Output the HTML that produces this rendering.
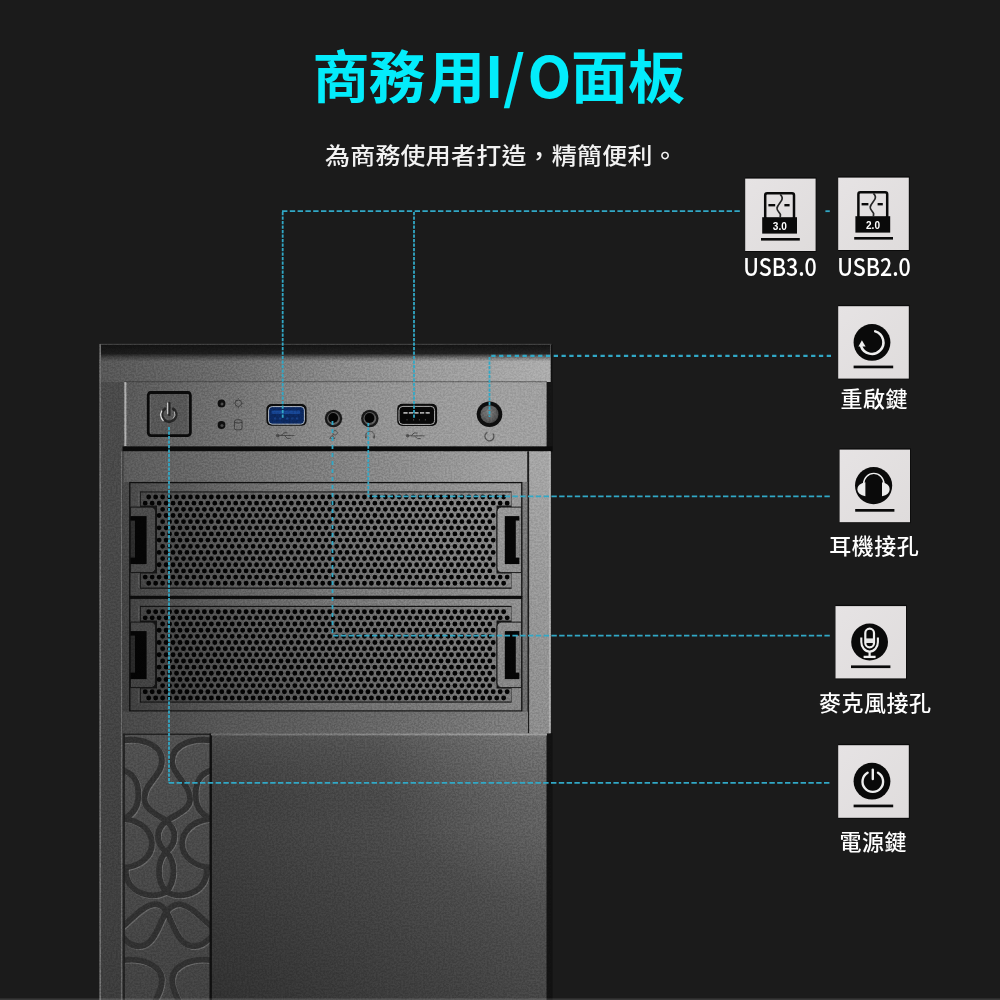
<!DOCTYPE html>
<html lang="zh-Hant">
<head>
<meta charset="utf-8">
<title>商務用I/O面板</title>
<style>
html,body{margin:0;padding:0;}
body{width:1000px;height:1000px;overflow:hidden;background:#1b1b1b;position:relative;
  font-family:"Liberation Sans","Noto Sans CJK TC",sans-serif;}
#stage{position:absolute;left:0;top:0;width:1000px;height:1000px;overflow:hidden;background:#1b1b1b;}
#gfx{position:absolute;left:0;top:0;}
.t{position:absolute;white-space:nowrap;color:#fff;line-height:1;}
#title{left:312.5px;top:44.5px;font-family:"Noto Sans CJK TC",sans-serif;font-weight:700;font-size:57px;color:#03ecfb;letter-spacing:0px;}
#sub{left:325px;top:143.2px;font-family:"Noto Sans CJK TC",sans-serif;font-weight:500;font-size:25px;letter-spacing:0.2px;color:#f2f2f2;transform:scaleY(0.925);transform-origin:0 0;}
.usb{font-size:24.6px !important;transform:scaleX(0.872);transform-origin:50% 50%;}
.cj{letter-spacing:0.5px;transform:scaleY(0.96);transform-origin:50% 50%;}
.lab{font-family:"Noto Sans CJK TC",sans-serif;font-weight:500;font-size:22px;text-align:center;width:200px;color:#fff;}
</style>
</head>
<body>
<div id="stage">
<svg id="gfx" width="1000" height="1000" viewBox="0 0 1000 1000">
<defs>
  <linearGradient id="gBody" gradientUnits="userSpaceOnUse" x1="100" y1="0" x2="550" y2="0">
    <stop offset="0" stop-color="#4c4c4c"/><stop offset="1" stop-color="#808080"/>
  </linearGradient>
  <linearGradient id="gTopH" gradientUnits="userSpaceOnUse" x1="100" y1="0" x2="550" y2="0">
    <stop offset="0" stop-color="#565656"/><stop offset="0.28" stop-color="#6c6c6c"/><stop offset="0.5" stop-color="#868686"/><stop offset="0.72" stop-color="#9a9a9a"/><stop offset="0.85" stop-color="#a2a2a2"/><stop offset="0.94" stop-color="#a8a8a8"/><stop offset="1" stop-color="#adadad"/>
  </linearGradient>
  <linearGradient id="gTopV" x1="0" y1="0" x2="0" y2="1">
    <stop offset="0" stop-color="#121212" stop-opacity="1"/><stop offset="0.25" stop-color="#161616" stop-opacity=".92"/><stop offset="0.36" stop-color="#202020" stop-opacity=".38"/><stop offset="0.46" stop-color="#222" stop-opacity="0"/>
  </linearGradient>
  <linearGradient id="gPanel" gradientUnits="userSpaceOnUse" x1="100" y1="0" x2="550" y2="0">
    <stop offset="0" stop-color="#525252"/><stop offset="0.28" stop-color="#707070"/><stop offset="0.5" stop-color="#8a8a8a"/><stop offset="0.72" stop-color="#989898"/><stop offset="0.85" stop-color="#9e9e9e"/><stop offset="1" stop-color="#a0a0a0"/>
  </linearGradient>
  <linearGradient id="gStrip" gradientUnits="userSpaceOnUse" x1="100" y1="0" x2="550" y2="0">
    <stop offset="0" stop-color="#565656"/><stop offset="0.28" stop-color="#6c6c6c"/><stop offset="0.5" stop-color="#7e7e7e"/><stop offset="0.72" stop-color="#909090"/><stop offset="0.9" stop-color="#a0a0a0"/><stop offset="1" stop-color="#a2a2a2"/>
  </linearGradient>
  <linearGradient id="gStrip2" gradientUnits="userSpaceOnUse" x1="100" y1="0" x2="550" y2="0">
    <stop offset="0" stop-color="#464646"/><stop offset="0.11" stop-color="#4b4b4b"/><stop offset="0.28" stop-color="#565656"/><stop offset="0.5" stop-color="#5f5f5f"/><stop offset="0.72" stop-color="#6d6d6d"/><stop offset="0.9" stop-color="#7b7b7b"/><stop offset="1" stop-color="#7f7f7f"/>
  </linearGradient>
  <linearGradient id="gFrame" gradientUnits="userSpaceOnUse" x1="100" y1="0" x2="550" y2="0">
    <stop offset="0" stop-color="#444444"/><stop offset="0.07" stop-color="#4a4a4a"/><stop offset="0.28" stop-color="#666666"/><stop offset="0.5" stop-color="#7c7c7c"/><stop offset="0.72" stop-color="#8c8c8c"/><stop offset="0.9" stop-color="#9a9a9a"/><stop offset="1" stop-color="#9c9c9c"/>
  </linearGradient>
  <linearGradient id="gWeb" gradientUnits="userSpaceOnUse" x1="100" y1="0" x2="550" y2="0">
    <stop offset="0" stop-color="#404040"/><stop offset="0.07" stop-color="#464646"/><stop offset="0.28" stop-color="#5e5e5e"/><stop offset="0.5" stop-color="#707070"/><stop offset="0.72" stop-color="#808080"/><stop offset="0.9" stop-color="#8c8c8c"/><stop offset="1" stop-color="#8e8e8e"/>
  </linearGradient>
  <linearGradient id="gPillarR" x1="0" y1="0" x2="0" y2="1">
    <stop offset="0" stop-color="#a6a6a6"/><stop offset="0.5" stop-color="#989898"/><stop offset="1" stop-color="#8c8c8c"/>
  </linearGradient>
  <linearGradient id="gDoor" gradientUnits="userSpaceOnUse" x1="211" y1="0" x2="547" y2="0">
    <stop offset="0" stop-color="#3d3d3d"/><stop offset="0.5" stop-color="#494949"/><stop offset="1" stop-color="#575757"/>
  </linearGradient>
  <linearGradient id="gDoorV" x1="0" y1="0" x2="0" y2="1">
    <stop offset="0" stop-color="#fff" stop-opacity=".07"/><stop offset="0.35" stop-color="#000" stop-opacity="0"/><stop offset="1" stop-color="#000" stop-opacity=".2"/>
  </linearGradient>
  <radialGradient id="gDoorHi" gradientUnits="userSpaceOnUse" cx="547" cy="734" r="170">
    <stop offset="0" stop-color="#fff" stop-opacity=".12"/><stop offset="1" stop-color="#fff" stop-opacity="0"/>
  </radialGradient>
  <linearGradient id="gPillarL" gradientUnits="userSpaceOnUse" x1="0" y1="382" x2="0" y2="1000">
    <stop offset="0" stop-color="#4a4a4a"/><stop offset="0.15" stop-color="#494949"/><stop offset="0.35" stop-color="#464646"/><stop offset="0.85" stop-color="#3f3f3f"/><stop offset="1" stop-color="#3c3c3c"/>
  </linearGradient>
  <linearGradient id="gDeco" gradientUnits="userSpaceOnUse" x1="0" y1="733" x2="0" y2="1000">
    <stop offset="0" stop-color="#505050"/><stop offset="0.3" stop-color="#4b4b4b"/><stop offset="1" stop-color="#424242"/>
  </linearGradient>
  <linearGradient id="gBayShade" gradientUnits="userSpaceOnUse" x1="0" y1="482" x2="0" y2="711">
    <stop offset="0" stop-color="#000" stop-opacity="0"/><stop offset="1" stop-color="#000" stop-opacity=".15"/>
  </linearGradient>
  <radialGradient id="gReset" cx="0.45" cy="0.4" r="0.7">
    <stop offset="0" stop-color="#7c7c7c"/><stop offset="1" stop-color="#444"/>
  </radialGradient>
  <linearGradient id="gBox" x1="0" y1="0" x2="1" y2="1">
    <stop offset="0" stop-color="#e6e3e4"/><stop offset="1" stop-color="#dfdcdc"/>
  </linearGradient>
  <filter id="grain" x="0" y="0" width="100%" height="100%" color-interpolation-filters="sRGB">
    <feTurbulence type="fractalNoise" baseFrequency="0.55" numOctaves="2" seed="11"/>
    <feColorMatrix type="matrix" values="2.6 0 0 0 -0.8  2.6 0 0 0 -0.8  2.6 0 0 0 -0.8  0 0 0 0 1"/>
  </filter>
</defs>
<!-- case -->
<g id="case">
  <!-- body base -->
  <path d="M99.5 344 H552.4 V451.4 H550.8 V733 H552.2 V1000 H99.5Z" fill="#101010"/>
  <rect x="99.5" y="344" width="451" height="656" fill="url(#gBody)"/>
  <!-- top band -->
  <rect x="99.5" y="344" width="451" height="38" fill="url(#gTopH)"/>
  <rect x="99.5" y="344" width="451" height="38" fill="url(#gTopV)"/>
  <rect x="99.5" y="343.8" width="452" height="1.1" fill="#444"/>
  <!-- left pillar -->
  <rect x="99.5" y="382" width="24" height="618" fill="url(#gPillarL)"/>
  <rect x="99.5" y="344" width="1.5" height="656" fill="#707070"/>
  <!-- I/O panel -->
  <rect x="124" y="381.5" width="423" height="65" fill="url(#gPanel)"/>
  <rect x="124" y="381.2" width="423" height="1" fill="#2c2c2c" opacity=".55"/>
  <rect x="124.4" y="382" width="2" height="64" fill="#b0b0b0"/>
  <rect x="546.6" y="382" width="6" height="69" fill="#151515"/>
  <rect x="122.5" y="446.4" width="430" height="5" fill="#0b0b0b"/>
  <!-- strip under panel -->
  <rect x="123" y="451.4" width="405" height="31" fill="url(#gStrip)"/>
  <rect x="121.4" y="451.4" width="1" height="549" fill="#848484"/><rect x="122.4" y="451.4" width="1" height="549" fill="#333"/>
  <!-- right pillar -->
  <rect x="529" y="451.4" width="21.8" height="281.6" fill="url(#gPillarR)"/>
  <rect x="527.2" y="451.4" width="1.9" height="282" fill="#1c1c1c"/>
  <rect x="548.9" y="451.4" width="1.6" height="282" fill="#b6b6b6" opacity=".8"/>
  <!-- bay area bg -->
  <rect x="123" y="482" width="404.4" height="230" fill="url(#gStrip2)"/>
  <g>
    <rect x="129.8" y="482.6" width="392" height="113.79999999999995" fill="url(#gFrame)" stroke="#101010" stroke-width="1.3"/>
    <rect x="140" y="491.40000000000003" width="371.6" height="97.4" fill="#151515"/>
    <path id="mmesh" d="M140.8 492.6 H511.4 V505.6 H496.5 V573.6 H511.4 V587.6 H140.8 V573.6 H157 V505.6 H140.8 Z" fill="url(#gWeb)"/>
    <g fill="none" stroke="#030303" stroke-width="4.8" stroke-linecap="round" stroke-dasharray="0 6.96" transform="translate(0.3 0.4)">
      <path d="M148.40 496.60H503.86"/>
      <path d="M144.92 502.76H507.34"/>
      <path d="M162.32 508.92H489.94"/>
      <path d="M158.84 515.08H493.42"/>
      <path d="M162.32 521.24H489.94"/>
      <path d="M158.84 527.40H493.42"/>
      <path d="M162.32 533.56H489.94"/>
      <path d="M158.84 539.72H493.42"/>
      <path d="M162.32 545.88H489.94"/>
      <path d="M158.84 552.04H493.42"/>
      <path d="M162.32 558.20H489.94"/>
      <path d="M158.84 564.36H493.42"/>
      <path d="M162.32 570.52H489.94"/>
      <path d="M144.92 576.68H507.34"/>
      <path d="M148.40 582.84H503.86"/>
    </g>
    <path d="M130.4 507.1 H151 a4.6 4.6 0 0 1 4.6 4.6 V568.0 a4.6 4.6 0 0 1 -4.6 4.6 H130.4Z" fill="#4c4c4c" stroke="#151515" stroke-width="1"/>
    <rect x="130.4" y="516.1" width="16.2" height="48" fill="#050505"/>
    <rect x="130.6" y="520.6" width="4.4" height="37" fill="#2e2e2e"/>
    <path d="M521.4 507.1 H501.6 a4.6 4.6 0 0 0 -4.6 4.6 V568.0 a4.6 4.6 0 0 0 4.6 4.6 H521.4Z" fill="#9a9a9a" stroke="#1a1a1a" stroke-width="1"/>
    <rect x="504.8" y="516.1" width="14.6" height="48" fill="#060606"/>
    <rect x="515.8" y="520.6" width="4" height="37" fill="#8c8c8c"/>
    <rect x="138" y="492.6" width="1" height="13" fill="#666" opacity=".6"/><rect x="138" y="574.6" width="1" height="13" fill="#666" opacity=".6"/>
  </g>
  <g>
    <rect x="129.2" y="596" width="393.2" height="2.6" fill="#0c0c0c"/>
    <rect x="129.8" y="598.4" width="392" height="112.6" fill="url(#gFrame)" stroke="#101010" stroke-width="1.3"/>
    <rect x="140" y="605.8" width="371.6" height="96.8" fill="#151515"/>
    <path id="mmesh2" d="M140.8 607.1 H511.4 V620.6 H496.5 V688.6 H511.4 V701.4 H140.8 V688.6 H157 V620.6 H140.8 Z" fill="url(#gWeb)"/>
    <g fill="none" stroke="#030303" stroke-width="4.9" stroke-linecap="round" stroke-dasharray="0 6.96" transform="translate(0.3 0.3)">
      <path d="M148.40 611.40H503.86"/>
      <path d="M144.92 617.56H507.34"/>
      <path d="M162.32 623.72H489.94"/>
      <path d="M158.84 629.88H493.42"/>
      <path d="M162.32 636.04H489.94"/>
      <path d="M158.84 642.20H493.42"/>
      <path d="M162.32 648.36H489.94"/>
      <path d="M158.84 654.52H493.42"/>
      <path d="M162.32 660.68H489.94"/>
      <path d="M158.84 666.84H493.42"/>
      <path d="M162.32 673.00H489.94"/>
      <path d="M158.84 679.16H493.42"/>
      <path d="M162.32 685.32H489.94"/>
      <path d="M144.92 691.48H507.34"/>
      <path d="M148.40 697.64H503.86"/>
    </g>
    <path d="M130.4 622.1 H151 a4.6 4.6 0 0 1 4.6 4.6 V683.0 a4.6 4.6 0 0 1 -4.6 4.6 H130.4Z" fill="#4c4c4c" stroke="#151515" stroke-width="1"/>
    <rect x="130.4" y="631.1" width="16.2" height="48" fill="#050505"/>
    <rect x="130.6" y="635.6" width="4.4" height="37" fill="#2e2e2e"/>
    <path d="M521.4 622.1 H501.6 a4.6 4.6 0 0 0 -4.6 4.6 V683.0 a4.6 4.6 0 0 0 4.6 4.6 H521.4Z" fill="#9a9a9a" stroke="#1a1a1a" stroke-width="1"/>
    <rect x="504.8" y="631.1" width="14.6" height="48" fill="#060606"/>
    <rect x="515.8" y="635.6" width="4" height="37" fill="#8c8c8c"/>
    <rect x="138" y="607.6" width="1" height="13" fill="#666" opacity=".6"/><rect x="138" y="689.6" width="1" height="13" fill="#666" opacity=".6"/>
  </g>
  <!-- strip under bays -->
  <rect x="123" y="711.6" width="405" height="22" fill="url(#gStrip2)"/>
  <rect x="123" y="482" width="405" height="229.6" fill="url(#gBayShade)"/>
  <!-- deco strip -->
  <rect x="123.5" y="733.5" width="87.5" height="267" fill="url(#gDeco)"/>
  <svg x="110" y="730" width="120" height="270" viewBox="0 0 444 1000" overflow="hidden">
    <clipPath id="cDeco"><rect x="52" y="14" width="320" height="990"/></clipPath>
    <g clip-path="url(#cDeco)" fill="none" stroke="#8a8a8a" stroke-opacity=".5" stroke-width="21.5" transform="translate(3.2 3.2)" stroke-linecap="round">
      <path d="M50 38 C110 30 190 50 192 112 C194 170 120 200 128 262 C134 300 185 318 208 338"/>
      <path d="M372 38 C312 30 232 50 230 112 C228 170 302 200 296 262 C290 300 232 318 208 338"/>
      <path d="M50 150 C95 165 105 200 105 240 C105 290 80 315 50 328"/>
      <path d="M372 150 C327 165 317 200 317 240 C317 290 342 315 372 328"/>
      <path d="M50 330 C120 335 155 380 155 420 C155 470 110 505 50 510"/>
      <path d="M372 330 C302 335 267 380 267 420 C267 470 312 505 372 510"/>
      <path d="M208 338 C165 370 170 420 208 452 C246 486 242 560 208 600"/>
      <path d="M208 338 C251 370 246 420 208 452 C170 486 174 560 208 600"/>
      <path d="M208 600 C160 625 100 610 72 570 C60 550 55 530 60 510"/>
      <path d="M208 600 C256 625 316 610 344 570 C356 550 361 530 356 510"/>
      <path d="M50 725 C90 690 125 650 165 645 C190 645 200 660 208 672 C235 720 250 790 300 800 C330 805 350 790 372 770"/>
      <path d="M372 725 C332 690 297 650 257 645 C232 645 222 660 208 672 C181 720 166 790 116 800 C86 805 66 790 50 770"/>
      <path d="M50 852 C110 845 190 865 192 925 C193 960 175 985 165 1010"/>
      <path d="M372 852 C312 845 232 865 230 925 C229 960 247 985 257 1010"/>
    </g>
    <g clip-path="url(#cDeco)" fill="none" stroke="#303030" stroke-width="21.5" stroke-linecap="round">
      <path d="M50 38 C110 30 190 50 192 112 C194 170 120 200 128 262 C134 300 185 318 208 338"/>
      <path d="M372 38 C312 30 232 50 230 112 C228 170 302 200 296 262 C290 300 232 318 208 338"/>
      <path d="M50 150 C95 165 105 200 105 240 C105 290 80 315 50 328"/>
      <path d="M372 150 C327 165 317 200 317 240 C317 290 342 315 372 328"/>
      <path d="M50 330 C120 335 155 380 155 420 C155 470 110 505 50 510"/>
      <path d="M372 330 C302 335 267 380 267 420 C267 470 312 505 372 510"/>
      <path d="M208 338 C165 370 170 420 208 452 C246 486 242 560 208 600"/>
      <path d="M208 338 C251 370 246 420 208 452 C170 486 174 560 208 600"/>
      <path d="M208 600 C160 625 100 610 72 570 C60 550 55 530 60 510"/>
      <path d="M208 600 C256 625 316 610 344 570 C356 550 361 530 356 510"/>
      <path d="M50 725 C90 690 125 650 165 645 C190 645 200 660 208 672 C235 720 250 790 300 800 C330 805 350 790 372 770"/>
      <path d="M372 725 C332 690 297 650 257 645 C232 645 222 660 208 672 C181 720 166 790 116 800 C86 805 66 790 50 770"/>
      <path d="M50 852 C110 845 190 865 192 925 C193 960 175 985 165 1010"/>
      <path d="M372 852 C312 845 232 865 230 925 C229 960 247 985 257 1010"/>
    </g>
  </svg>
  <rect x="123.2" y="733.5" width="1.6" height="267" fill="#1c1c1c"/>
  <rect x="123.5" y="733.5" width="87" height="1.5" fill="#222"/>
  <!-- door -->
  <rect x="211" y="733.5" width="336" height="267" fill="url(#gDoor)"/>
  <rect x="211" y="733.5" width="336" height="267" fill="url(#gDoorV)"/>
  <rect x="211" y="733.5" width="336" height="267" fill="url(#gDoorHi)"/>
  <rect x="209.5" y="733.5" width="2.4" height="267" fill="#0f0f0f"/>
  <rect x="546.5" y="733.5" width="6" height="267" fill="#121212"/>
  <rect x="211" y="733.4" width="336" height="2" fill="url(#gStrip)" opacity=".95"/>
</g>
<!-- IO parts -->
<g id="io">
  <!-- power button -->
  <rect x="148.2" y="392.4" width="42.2" height="43.2" rx="3" fill="#565656" stroke="#0a0a0a" stroke-width="2.7"/>
  <rect x="148.2" y="391.6" width="42.2" height="2.4" rx="1" fill="#0a0a0a"/>
  <path d="M150.6 395 V433.4 M188 395 V433.4" stroke="#707070" stroke-width="0.8" opacity=".8"/>
  <g fill="none" stroke-linecap="round">
    <path d="M164.9 408.8 A7.2 7.2 0 1 0 173.3 408.8" stroke="#262626" stroke-width="2.7"/>
    <path d="M169.3 403.2 V415" stroke="#262626" stroke-width="2.5"/>
    <path d="M161.7 411 A8.6 8.6 0 0 0 163.2 420.6" stroke="#dcdcdc" stroke-width="1.3"/>
    <path d="M174.6 412 A5.6 5.6 0 0 1 173.4 418.2" stroke="#bdbdbd" stroke-width="1"/>
    <path d="M167.7 403 V413.6" stroke="#d8d8d8" stroke-width="1.1"/>
  </g>
  <!-- leds -->
  <circle cx="221.5" cy="403.4" r="3.9" fill="#0e0e0e"/><circle cx="222" cy="404" r="1.5" fill="#4a4a4a"/>
  <circle cx="221.5" cy="425" r="3.9" fill="#0e0e0e"/><circle cx="222" cy="425.6" r="1.5" fill="#4a4a4a"/>
  <g fill="none" stroke="#3e3e3e" stroke-width="1">
    <circle cx="238.3" cy="403.2" r="3.2"/>
    <path d="M238.3 398.2v1M238.3 407.2v1M233.3 403.2h1M242.3 403.2h1M234.8 399.7l.7.7M241.1 406l.7.7M234.8 406.7l.7-.7M241.1 400.4l.7-.7"/>
    <rect x="234.4" y="419.8" width="7.6" height="10" rx="2"/>
    <path d="M234.4 422.4 q3.8 1.6 7.6 0"/>
  </g>
  <!-- usb3 port -->
  <rect x="266.4" y="404" width="40.2" height="21.8" rx="5" fill="#0c0c0c"/>
  <rect x="268.6" y="406.6" width="35.8" height="17.6" rx="3.6" fill="#0b2860" stroke="#c4ccd4" stroke-width="0.9"/>
  <rect x="271.6" y="410.6" width="28.6" height="3.4" rx="1" fill="#174592"/>
  <path d="M274 418.6h2.4M279 418.6h2.4M286 418.6h2.4M291 418.6h2.4M296 418.6h2.4" stroke="#163c80" stroke-width="2"/>
  <!-- usb symbol under usb3 -->
  <g fill="none" stroke="#484848" stroke-width="1"><path d="M277.4 435.6 H294.4"/><path d="M281 435.6 l3-2.8 h3.6"/><path d="M284.4 435.6 l3 2.8 h3.2"/><circle cx="277.6" cy="435.6" r="1.3" fill="#484848"/></g>
  <!-- jacks -->
  <g id="jack1"><circle cx="333.5" cy="418.5" r="8.7" fill="#181818"/><circle cx="333.5" cy="418.5" r="6.4" fill="#5c5c5c"/><circle cx="333.2" cy="418" r="4.9" fill="#040404"/></g>
  <g id="jack2"><circle cx="369.8" cy="418.5" r="8.7" fill="#181818"/><circle cx="369.8" cy="418.5" r="6.4" fill="#5c5c5c"/><circle cx="369.5" cy="418" r="4.9" fill="#040404"/></g>
  <g fill="none" stroke="#525252" stroke-width="1">
    <path d="M329.6 438.6 l2.6-3.4 2.6 3.4z"/><circle cx="335" cy="432.8" r="2.3"/>
    <path d="M365.8 438 v-2.6 a4.2 4.2 0 0 1 8.4 0 v2.6"/><path d="M365.8 435.6v2.6M374.2 435.6v2.6" stroke-width="1.6"/>
  </g>
  <!-- usb2 port -->
  <rect x="397.2" y="403.7" width="39.9" height="22.2" rx="5" fill="#0b0b0b"/>
  <rect x="399" y="406.4" width="35.6" height="18" rx="3.8" fill="#070707" stroke="#d6d6d6" stroke-width="0.8"/>
  <path d="M403.4 412.8h4.2M408.8 412.8h4.2M414.4 412.8h4.2M420 412.8h4.2M425.6 412.8h4.2" stroke="#a8a8a8" stroke-width="1.7"/>
  <path d="M407 419v1.6M413.6 419v1.6M419.4 419v1.6M425.4 419v1.6" stroke="#444" stroke-width="1"/>
  <g fill="none" stroke="#505050" stroke-width="1"><path d="M407.4 435.8 H424.6"/><path d="M411 435.8 l3-2.8 h3.6"/><path d="M414.4 435.8 l3 2.8 h3.2"/><circle cx="407.6" cy="435.8" r="1.3" fill="#505050"/></g>
  <!-- reset button -->
  <circle cx="489.5" cy="414.2" r="12.8" fill="#0d0d0d"/>
  <circle cx="489.5" cy="414.2" r="9" fill="url(#gReset)"/>
  <path d="M492.8 433.4 A4.5 4.5 0 1 1 487.4 432.4" fill="none" stroke="#505050" stroke-width="1.2"/>
</g>
<rect x="99.5" y="344" width="451" height="656" filter="url(#grain)" opacity=".09" style="mix-blend-mode:overlay"/>
<!-- dashed lines -->
<g fill="none" stroke="#31a8c6" stroke-width="1.8">
  <g stroke-dasharray="5.4 2.4">
    <path d="M739.8 211.2 H282"/>
    <path d="M829.8 211.2 H825.4"/>
    <path d="M829.8 496.4 H368"/>
    <path d="M829.8 635.7 H332"/>
    <path d="M829.4 782.9 H168.6"/>
  </g>
  <path d="M831 355.9 H489" stroke-width="2.3" stroke-dasharray="4.3 3.5"/>
  <g stroke-dasharray="3.3 1.2" stroke-width="1.8">
    <path d="M282.7 212 V419"/>
    <path d="M414 212 V419"/>
    <path d="M489.5 357 V417"/>
    <path d="M368.3 423 V496.4"/>
    <path d="M169 427 V782.9"/>
  </g>
  <path d="M332.5 421 V635.7" stroke-width="1.8" stroke-dasharray="4 4"/>
</g>
<!-- icon boxes -->
<g id="boxes">
  <g fill="#0b0b0b">
    <rect x="745.2" y="177.3" width="71.2" height="74.6"/>
    <rect x="838.2" y="176.3" width="71.4" height="74.6"/>
    <rect x="838.2" y="304.9" width="71.4" height="74.6"/>
    <rect x="839.6" y="448.3" width="71.2" height="74.8"/>
    <rect x="835.5" y="604.8" width="71.3" height="74.5"/>
    <rect x="838.2" y="743.9" width="71.4" height="74.8"/>
  </g>
  <g fill="url(#gBox)">
    <rect x="745.2" y="178.6" width="70.4" height="72.4"/>
    <rect x="838.2" y="177.6" width="70.6" height="72.4"/>
    <rect x="838.2" y="306.2" width="70.6" height="72.4"/>
    <rect x="839.6" y="449.6" width="70.4" height="72.6"/>
    <rect x="835.5" y="606.1" width="70.5" height="72.3"/>
    <rect x="838.2" y="745.2" width="70.6" height="72.6"/>
  </g>
</g>
<!-- usb3 icon -->
<g id="icoUsb3">
  <rect x="765.2" y="193.2" width="28.8" height="26" rx="2" fill="none" stroke="#0a0a0a" stroke-width="2.5"/>
  <rect x="762.2" y="217.2" width="34.8" height="16.4" fill="#0a0a0a"/>
  <rect x="768.4" y="204" width="6.8" height="2.4" fill="#0a0a0a"/>
  <rect x="784.4" y="204" width="5.2" height="2.4" fill="#0a0a0a"/>
  <path d="M780.2 194.4 C782.4 196.6 783 198 781.6 200.4 C780.2 202.8 777.4 205.4 777 208 C776.6 210.8 779.8 212.6 780.4 214.6 L780.2 217.6" fill="none" stroke="#262626" stroke-width="1.7"/>
  <rect x="761" y="238" width="38.8" height="2.6" fill="#0a0a0a"/>
  <text x="779.8" y="230.4" text-anchor="middle" font-family="'Liberation Sans',sans-serif" font-weight="700" font-size="11.5" fill="#fff" textLength="14" lengthAdjust="spacingAndGlyphs">3.0</text>
</g>
<!-- usb2 icon -->
<g id="icoUsb2">
  <rect x="858.4" y="192.2" width="28.8" height="26" rx="2" fill="none" stroke="#0a0a0a" stroke-width="2.5"/>
  <rect x="855.4" y="216.2" width="34.8" height="16.4" fill="#0a0a0a"/>
  <rect x="861.6" y="203" width="6.8" height="2.4" fill="#0a0a0a"/>
  <rect x="877.6" y="203" width="5.2" height="2.4" fill="#0a0a0a"/>
  <path d="M873.4 193.4 C875.6 195.6 876.2 197 874.8 199.4 C873.4 201.8 870.6 204.4 870.2 207 C869.8 209.8 873 211.6 873.6 213.6 L873.4 216.6" fill="none" stroke="#262626" stroke-width="1.7"/>
  <rect x="854.2" y="237" width="38.8" height="2.6" fill="#0a0a0a"/>
  <text x="873" y="229.4" text-anchor="middle" font-family="'Liberation Sans',sans-serif" font-weight="700" font-size="11.5" fill="#fff" textLength="14" lengthAdjust="spacingAndGlyphs">2.0</text>
</g>
<!-- reset icon -->
<g id="icoReset">
  <circle cx="872" cy="342.4" r="18.4" fill="#0a0a0a"/>
  <path d="M875.2 331.4 A11.5 11.5 0 1 1 861 346" fill="none" stroke="#efefef" stroke-width="2.5" stroke-linecap="round"/>
  <path d="M861.9 340.2 L858.4 346.6 H865.6Z" fill="#efefef"/>
  <rect x="853.6" y="365.6" width="39.6" height="2.7" fill="#0a0a0a"/>
</g>
<!-- headphone icon -->
<g id="icoEar">
  <circle cx="873.6" cy="485.6" r="18.6" fill="#0a0a0a"/>
  <path d="M863.6 484 A10.2 10.6 0 0 1 884 484" fill="none" stroke="#efefef" stroke-width="1.4"/>
  <path d="M865.4 482.2 V496.2 C860.4 495.4 857.4 492.6 857.4 489.2 C857.4 485.8 860.4 483 865.4 482.2Z" fill="#ececec"/>
  <path d="M882 482.2 V496.2 C887 495.4 889.6 492.6 889.6 489.2 C889.6 485.8 887 483 882 482.2Z" fill="#ececec"/>
  <rect x="855.2" y="509" width="39.2" height="2.7" fill="#0a0a0a"/>
</g>
<!-- mic icon -->
<g id="icoMic">
  <circle cx="869.6" cy="642" r="18.4" fill="#0a0a0a"/>
  <g fill="none" stroke="#efefef">
    <rect x="865.3" y="628.7" width="8.7" height="18.6" rx="4.35" stroke-width="2.2"/>
    <path d="M861.3 637.4 V642 A8.3 9.6 0 0 0 877.9 642 V637.4" stroke-width="2.1"/>
    <path d="M869.6 652 V656.4" stroke-width="2.2"/>
    <path d="M863.6 656.9 H875.6" stroke-width="2.3"/>
  </g>
  <rect x="866" y="638.4" width="7.2" height="4.6" fill="#e6e6e6"/>
  <rect x="851" y="665.4" width="39.4" height="2.7" fill="#0a0a0a"/>
</g>
<!-- power icon -->
<g id="icoPwr">
  <circle cx="872" cy="781.2" r="18.4" fill="#0a0a0a"/>
  <path d="M867.6 772.7 A10.3 10.3 0 1 0 878 772.7" fill="none" stroke="#efefef" stroke-width="2.4" stroke-linecap="round"/>
  <path d="M872.8 769.6 V779" stroke="#efefef" stroke-width="2.4" stroke-linecap="round"/>
  <rect x="853.6" y="804.6" width="39.6" height="2.7" fill="#0a0a0a"/>
</g>
<rect x="0" y="998.4" width="1000" height="1.6" fill="#fff" opacity=".13"/>
</svg>
<div class="t" id="title"><span style="letter-spacing:-1px">商</span><span style="letter-spacing:2.6px">務</span><span style="letter-spacing:-0.4px">用</span><span style="letter-spacing:-0.5px">I</span><span style="letter-spacing:2.5px">/</span><span style="letter-spacing:-0.5px">O</span>面板</div>
<div class="t" id="sub">為商務使用者打造，精簡便利。</div>
<div class="t lab usb" style="left:680px;top:252.8px;">USB3.0</div>
<div class="t lab usb" style="left:773.5px;top:252.8px;">USB2.0</div>
<div class="t lab cj" style="left:774.2px;top:386.3px;">重啟鍵</div>
<div class="t lab cj" style="left:774.2px;top:532.8px;">耳機接孔</div>
<div class="t lab cj" style="left:775.2px;top:689.8px;">麥克風接孔</div>
<div class="t lab cj" style="left:773.2px;top:829.3px;">電源鍵</div>
</div>
</body>
</html>
